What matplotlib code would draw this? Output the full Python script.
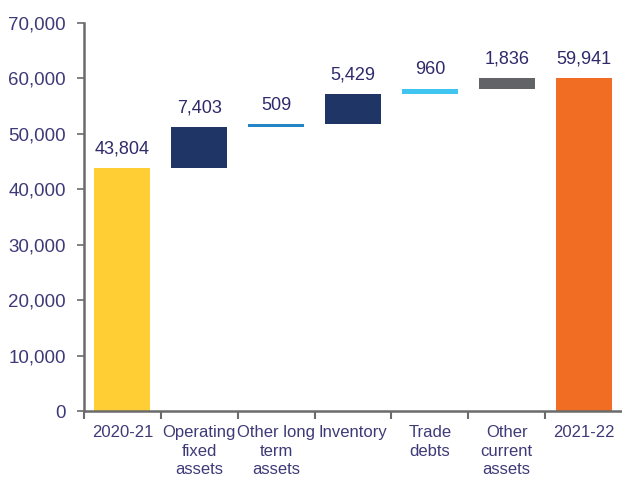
import matplotlib.pyplot as plt
from matplotlib.ticker import FuncFormatter

plt.rcParams['font.family'] = ['Liberation Sans', 'DejaVu Sans']

categories = ['2020-21', 'Operating\nfixed\nassets', 'Other long\nterm\nassets',
              'Inventory', 'Trade\ndebts', 'Other\ncurrent\nassets', '2021-22']
start_value = 43804
changes = [7403, 509, 5429, 960, 1836]
end_value = 59941
colors = ['#FFCD34', '#1F3566', '#2584C6', '#1F3566', '#40C4F0', '#626366', '#F06D23']

text_color = '#2E2A6B'
tick_color = '#3E3A78'
spine_color = '#6B6B6B'

# bottoms / heights of the floating bars
bottoms = [0]
heights = [start_value]
running = start_value
for c in changes:
    bottoms.append(running)
    heights.append(c)
    running += c
bottoms.append(0)
heights.append(end_value)

fig = plt.figure(figsize=(6.22, 4.8), dpi=100)
ax = fig.add_axes([0.135, 0.143, 0.865, 0.81])

x = range(len(categories))
ax.bar(x, heights, bottom=bottoms, width=0.73, color=colors)

for i, (b, h) in enumerate(zip(bottoms, heights)):
    ax.text(i, b + h + 1900, f'{h:,}', ha='center', va='bottom',
            fontsize=13, color=text_color)

ax.set_ylim(0, 70000)
ax.set_xlim(-0.5, len(categories) - 0.5)
ax.set_yticks(range(0, 70001, 10000))
ax.yaxis.set_major_formatter(FuncFormatter(lambda v, p: f'{int(v):,}'))
ax.set_xticks([i - 0.5 for i in range(len(categories))], minor=False)
ax.set_xticklabels([])
ax.set_xticks(list(x), minor=True)
ax.set_xticklabels(categories, minor=True, linespacing=1.3)
ax.tick_params(axis='x', which='minor', length=0, pad=10, labelsize=12,
               labelcolor=tick_color)
ax.tick_params(axis='x', which='major', length=6, width=1.5, color=spine_color,
               direction='out')
ax.tick_params(axis='y', length=5, width=1.2, color=spine_color, labelsize=13.5,
               labelcolor=tick_color, pad=8)

for s in ['top', 'right']:
    ax.spines[s].set_visible(False)
for s in ['left', 'bottom']:
    ax.spines[s].set_color(spine_color)
    ax.spines[s].set_linewidth(1.8)

fig.savefig('out.png', dpi=100)
